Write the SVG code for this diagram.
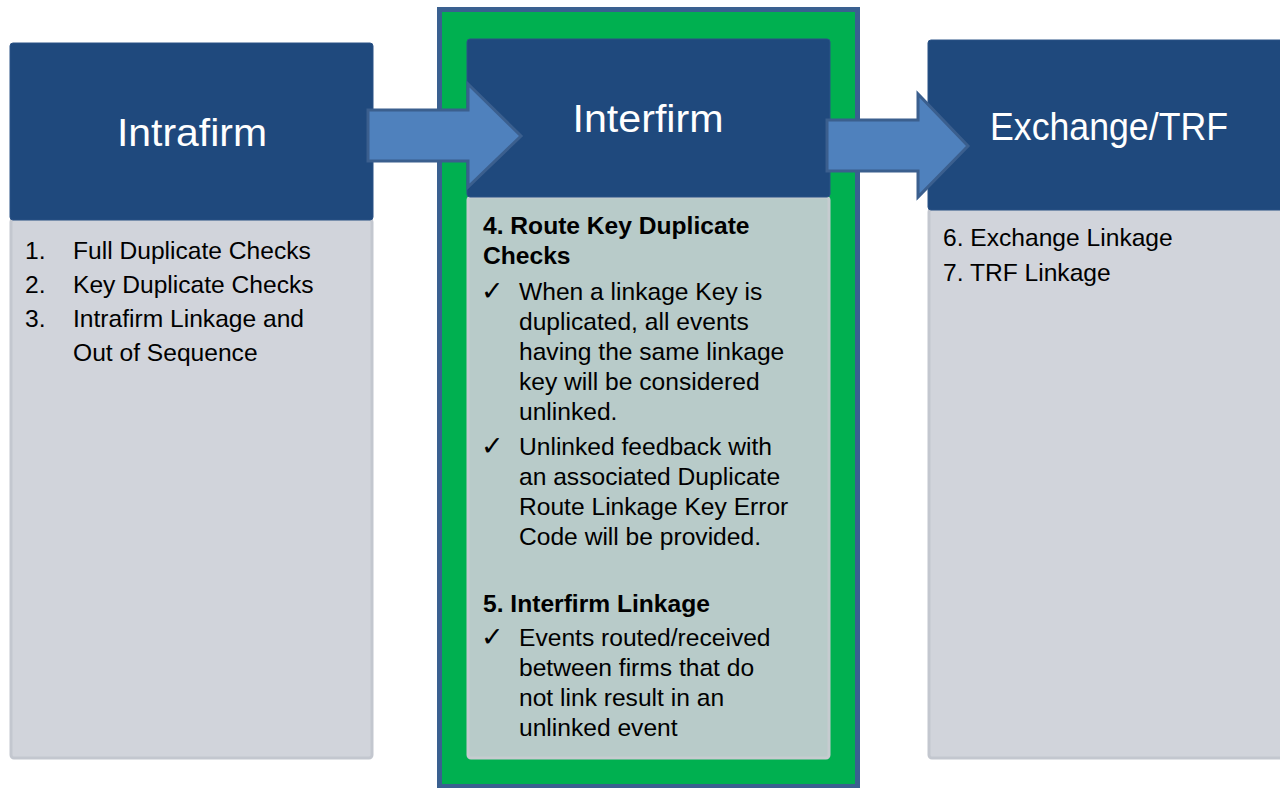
<svg xmlns="http://www.w3.org/2000/svg" width="1280" height="788" viewBox="0 0 1280 788">
<style>
.hdr{fill:#1F497D;stroke:#2A5286;stroke-width:1}
.body{fill:#D1D4DB;stroke:#C3C7CF;stroke-width:3}
.mbody{fill:#B8CBC9;stroke:#C6CCD0;stroke-width:3}
.ht{font-family:"Liberation Sans",Arial,sans-serif;font-size:39px;fill:#FFFFFF;text-anchor:middle}
.t{font-family:"Liberation Sans",Arial,sans-serif;font-size:24.6px;fill:#000000}
.b{font-weight:bold}
.ck{font-family:"DejaVu Sans",sans-serif;font-size:27px;fill:#000000}
.arrow{fill:#4F81BD;stroke:#3B5F8E;stroke-width:3;stroke-linejoin:miter}
</style>
<rect width="1280" height="788" fill="#FFFFFF"/>
<g id="intrafirm">
<rect class="body" x="11" y="219" width="361" height="539" rx="3"/>
<rect class="hdr" x="10" y="43" width="363" height="177" rx="3"/>
<text class="ht" x="192" y="146" textLength="150" lengthAdjust="spacingAndGlyphs">Intrafirm</text>
<text class="t" x="25" y="259">1.</text><text class="t" x="73" y="259">Full Duplicate Checks</text>
<text class="t" x="25" y="293">2.</text><text class="t" x="73" y="293">Key Duplicate Checks</text>
<text class="t" x="25" y="327">3.</text><text class="t" x="73" y="327">Intrafirm Linkage and</text>
<text class="t" x="73" y="361">Out of Sequence</text>
</g>
<g id="interfirm">
<rect x="439.5" y="9.5" width="418" height="777" fill="#00B050" stroke="#3A6090" stroke-width="5"/>
<rect class="mbody" x="468" y="197" width="361" height="561" rx="3"/>
<rect class="hdr" x="467" y="39" width="363" height="158" rx="3"/>
<text class="ht" x="648" y="132" textLength="151" lengthAdjust="spacingAndGlyphs">Interfirm</text>
<text class="t b" x="483" y="234">4. Route Key Duplicate</text>
<text class="t b" x="483" y="264">Checks</text>
<text class="ck" x="481" y="300">✓</text>
<text class="t" x="519" y="300">When a linkage Key is</text>
<text class="t" x="519" y="330">duplicated, all events</text>
<text class="t" x="519" y="360">having the same linkage</text>
<text class="t" x="519" y="390">key will be considered</text>
<text class="t" x="519" y="420">unlinked.</text>
<text class="ck" x="481" y="455">✓</text>
<text class="t" x="519" y="455">Unlinked feedback with</text>
<text class="t" x="519" y="485">an associated Duplicate</text>
<text class="t" x="519" y="515">Route Linkage Key Error</text>
<text class="t" x="519" y="545">Code will be provided.</text>
<text class="t b" x="483" y="612">5. Interfirm Linkage</text>
<text class="ck" x="481" y="646">✓</text>
<text class="t" x="519" y="646">Events routed/received</text>
<text class="t" x="519" y="676">between firms that do</text>
<text class="t" x="519" y="706">not link result in an</text>
<text class="t" x="519" y="736">unlinked event</text>
</g>
<g id="exchange">
<rect class="body" x="929" y="209" width="360" height="549" rx="3"/>
<rect class="hdr" x="928" y="40" width="362" height="170" rx="3"/>
<text class="ht" x="1109" y="140" textLength="238" lengthAdjust="spacingAndGlyphs">Exchange/TRF</text>
<text class="t" x="943" y="246">6. Exchange Linkage</text>
<text class="t" x="943" y="281">7. TRF Linkage</text>
</g>
<g id="connectors">
<polygon class="arrow" points="368,110 468,110 468,84 521,136 468,187 468,161 368,161"/>
<polygon class="arrow" points="827,120 918,120 918,94 968,146 918,197 918,171 827,171"/>
</g>
</svg>
